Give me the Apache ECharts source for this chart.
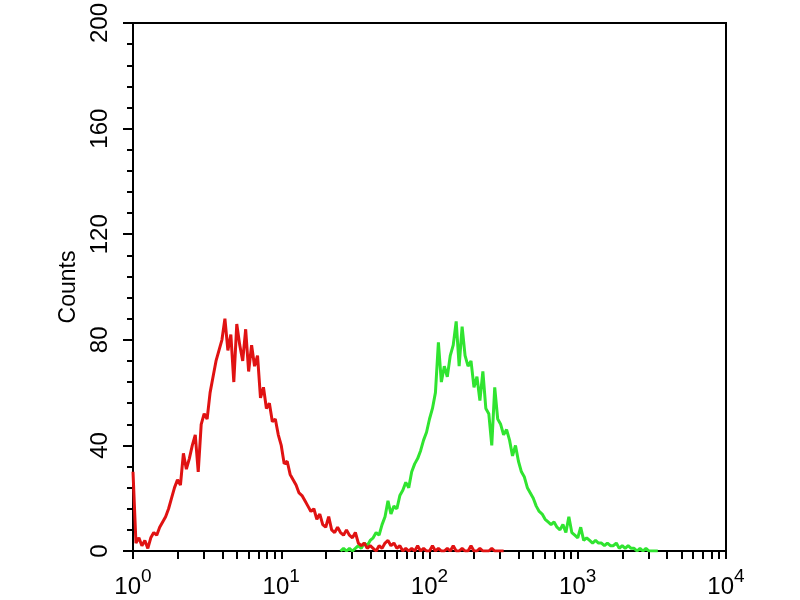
<!DOCTYPE html>
<html>
<head>
<meta charset="utf-8">
<script src="https://cdn.jsdelivr.net/npm/echarts@6/dist/echarts.min.js"></script>
<style>html,body{margin:0;padding:0;background:#fff}#c{width:800px;height:600px}</style>
</head>
<body>
<div id="c"></div>
<script>
// ---- data ----
// histogram channels: counts per channel, channels spaced 0.02 decade apart
const logStep = 0.02;
const redLogStart = 0;      // first red channel at 10^0
const greenLogStart = 1.4;  // first green channel at 10^1.4
const redCounts = [30,3,5,2,4,1,5,7,6,9,11,13,16,20,24,27,25,37,31,35,40,44,30,48,52,50,60,66,72,76,80,88,76,82,64,86,78,72,84,68,78,70,74,58,62,54,56,49,50,44,40,33,34,29,27,25,22,21,19,17,15,16,12,14,10,9,13,8,7,9,7,6,8,6,5,7,3,2,3,1,2,1,0,2,1,3,4,2,3,1,2,0,1,0,1,0,2,0,1,0,0,2,0,1,0,0,1,0,2,0,0,1,0,0,2,0,0,1,0,0,0,1,0,0,0,0];
const greenCounts = [0,1,0,1,0,1,2,1,3,2,4,5,7,6,10,13,19,14,17,16,21,23,26,24,30,33,35,38,42,45,50,54,60,79,64,70,66,74,78,87,70,85,74,70,72,62,66,57,68,54,52,40,62,50,48,44,46,42,36,40,34,30,28,24,22,20,17,15,14,12,11,10,11,9,8,10,7,13,7,6,5,9,4,5,4,3,4,3,3,2,3,2,2,3,1,2,1,2,1,1,0,1,0,1,0,0,0,0];
const xDecades = [1, 10, 100, 1000, 10000];
const xExponents = ['0', '1', '2', '3', '4'];
const xMinorMultipliers = [1,2,3,4,5,6,7,8,9];
const yMin = 0, yMax = 200, yStep = 40;
const yName = 'Counts';

// ---- build ----
function toPairs(counts, start) {
  return counts.map((c, i) => [Math.pow(10, start + i * logStep), c]);
}
const tickValues = [];
xDecades.slice(0, -1).forEach(d => xMinorMultipliers.forEach(m => tickValues.push(d * m)));
tickValues.push(xDecades[xDecades.length - 1]);

const font = 'Liberation Sans, Arial, sans-serif';
const chart = echarts.init(document.getElementById('c'), null, {renderer: 'canvas'});
chart.setOption({
  backgroundColor: '#fff',
  animation: false,
  grid: {left: 133, right: 74, top: 21, bottom: 49, show: true, borderColor: '#000', borderWidth: 2, backgroundColor: '#fff'},
  xAxis: {
    type: 'log', logBase: 10, min: 1, max: 10000,
    axisLine: {show: true, onZero: false, lineStyle: {color: '#000', width: 2}},
    axisTick: {show: true, inside: false, length: 8, lineStyle: {color: '#000', width: 2}, customValues: tickValues},
    minorTick: {show: false},
    splitLine: {show: false},
    axisLabel: {
      customValues: xDecades,
      margin: 16,
      formatter: function (v) {
        const idx = xDecades.indexOf(Math.round(v));
        return '{b|10}{s|' + xExponents[idx] + '}';
      },
      rich: {
        b: {fontSize: 24, fontFamily: font, color: '#000', verticalAlign: 'bottom', lineHeight: 32},
        s: {fontSize: 19, fontFamily: font, color: '#000', verticalAlign: 'top', lineHeight: 32}
      }
    }
  },
  yAxis: {
    type: 'value', min: yMin, max: yMax, interval: yStep,
    name: yName, nameLocation: 'middle', nameGap: 50, nameRotate: 90,
    nameTextStyle: {fontSize: 23, fontFamily: font, color: '#000'},
    axisLine: {show: true, lineStyle: {color: '#000', width: 2}},
    axisTick: {show: true, length: 10, lineStyle: {color: '#000', width: 2}},
    minorTick: {show: true, splitNumber: 5, length: 6, lineStyle: {color: '#000', width: 2}},
    splitLine: {show: false},
    minorSplitLine: {show: false},
    axisLabel: {rotate: 90, margin: 21, fontSize: 24, fontFamily: font, color: '#000'}
  },
  series: [
    {type: 'line', data: toPairs(redCounts, redLogStart), showSymbol: false, symbol: 'none',
     lineStyle: {color: '#e01212', width: 3}, z: 3},
    {type: 'line', data: toPairs(greenCounts, greenLogStart), showSymbol: false, symbol: 'none',
     lineStyle: {color: '#30e430', width: 3}, z: 2}
  ]
});
</script>
</body>
</html>
